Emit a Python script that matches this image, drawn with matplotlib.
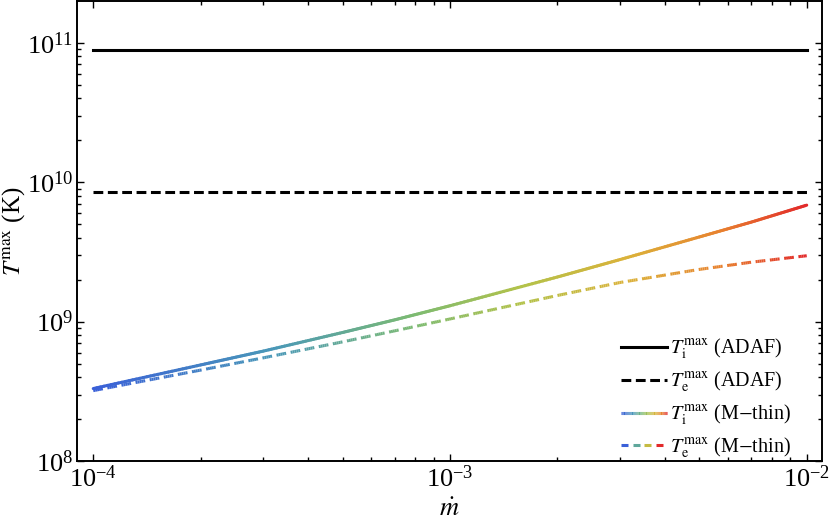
import numpy as np
import matplotlib
matplotlib.use("Agg")
import matplotlib.pyplot as plt
from matplotlib.collections import LineCollection
from matplotlib.colors import LinearSegmentedColormap
from matplotlib.legend_handler import HandlerBase
from matplotlib.lines import Line2D

plt.rcParams['font.family'] = ['Liberation Serif', 'DejaVu Serif']
plt.rcParams['mathtext.fontset'] = 'stix'

# data
mdot = [1e-4, 2e-4, 3e-4, 5e-4, 7e-4, 1e-3, 2e-3, 3e-3, 5e-3, 7e-3, 1e-2]
Ti_thin = [3.31e8, 4.89e8, 6.15e8, 8.36e8, 1.03e9, 1.30e9, 2.09e9, 2.79e9, 4.05e9, 5.18e9, 6.85e9]
Te_thin = [3.20e8, 4.49e8, 5.50e8, 7.16e8, 8.59e8, 1.045e9, 1.54e9, 1.91e9, 2.37e9, 2.67e9, 2.97e9]
Ti_adaf = 8.9e10
Te_adaf = 8.5e9
labels = [r'$T_{\rm i}^{\rm max}$ (ADAF)', r'$T_{\rm e}^{\rm max}$ (ADAF)',
          r'$T_{\rm i}^{\rm max}$ (M$-$thin)', r'$T_{\rm e}^{\rm max}$ (M$-$thin)']

cmap = LinearSegmentedColormap.from_list('rb', [
    (0.0, '#3a60d8'), (0.25, '#4a98b8'), (0.45, '#7dbb72'), (0.6, '#b3c24a'),
    (0.75, '#dbb23a'), (0.88, '#e8822f'), (1.0, '#e2292a')])

LW = 2.2
DASH = (0, (3.2, 1.5))


class GradHandler(HandlerBase):
    def __init__(self, dashed):
        super().__init__()
        self.dashed = dashed

    def create_artists(self, legend, orig, xd, yd, w, h, fs, trans):
        y = h / 2 - yd
        if self.dashed:
            n = 4
            seg_w = w / n
            segs = [[(-xd + i * seg_w, y), (-xd + i * seg_w + seg_w * 0.62, y)] for i in range(n)]
            cols = cmap(np.linspace(0, 1, n))
        else:
            n = 40
            xs = np.linspace(-xd, -xd + w, n + 1)
            segs = [[(xs[i], y), (xs[i + 1], y)] for i in range(n)]
            cols = cmap(np.linspace(0, 1, n))
        lc = LineCollection(segs, colors=cols, linewidths=LW, transform=trans)
        return [lc]


fig = plt.figure(figsize=(8.3, 5.23), dpi=100)
ax = fig.add_axes([0.093, 0.1185, 0.897, 0.8795])
ax.set_xscale('log')
ax.set_yscale('log')

ax.plot([mdot[0], mdot[-1]], [Ti_adaf, Ti_adaf], color='black', lw=LW)
ax.plot([mdot[0], mdot[-1]], [Te_adaf, Te_adaf], color='black', lw=LW, ls=DASH)


def draw_thin(y, dashed):
    # short pieces along each straight log-log piece so the colour runs smoothly
    lx, ly = np.log10(mdot), np.log10(y)
    px, py = [lx[0]], [ly[0]]
    for i in range(len(lx) - 1):
        t = np.linspace(0, 1, 31)[1:]
        px.extend(lx[i] + t * (lx[i + 1] - lx[i]))
        py.extend(ly[i] + t * (ly[i + 1] - ly[i]))
    px, py = np.array(px), np.array(py)
    c = (px - lx[0]) / (lx[-1] - lx[0])
    if not dashed:
        pts = np.array([10 ** px, 10 ** py]).T.reshape(-1, 1, 2)
        segs = np.concatenate([pts[:-1], pts[1:]], axis=1)
        ax.add_collection(LineCollection(segs, colors=cmap(c[:-1]), linewidths=LW,
                                         capstyle='round'))
    else:
        # dashes laid out along display length, each coloured by its position
        disp = ax.transData.transform(np.array([10 ** px, 10 ** py]).T)
        d = np.concatenate([[0], np.cumsum(np.hypot(*np.diff(disp, axis=0).T))])
        on, off = DASH[1][0] * LW / 0.72, DASH[1][1] * LW / 0.72
        s = 0.0
        segs, cols = [], []
        while s < d[-1]:
            e = min(s + on, d[-1])
            ss = np.linspace(s, e, 6)
            xs = np.interp(ss, d, px)
            ys = np.interp(ss, d, py)
            for k in range(5):
                segs.append([(10 ** xs[k], 10 ** ys[k]), (10 ** xs[k + 1], 10 ** ys[k + 1])])
                cols.append(cmap((xs[k] - lx[0]) / (lx[-1] - lx[0])))
            s += on + off
        ax.add_collection(LineCollection(segs, colors=cols, linewidths=LW, capstyle='butt'))


ax.set_xlim(10 ** -4.045, 10 ** -1.958)
ax.set_ylim(1e8, 10 ** 11.30)

draw_thin(Ti_thin, False)
draw_thin(Te_thin, True)

ax.set_xticks([1e-4, 1e-3, 1e-2])
ax.set_yticks([1e8, 1e9, 1e10, 1e11])
ax.tick_params(which='both', direction='in', top=True, right=True, width=1.0,
               labelsize=19, pad=3)
ax.tick_params(which='major', length=5)
ax.tick_params(which='minor', length=3)
for sp in ax.spines.values():
    sp.set_linewidth(1.4)

ax.set_xlabel(r'$\dot{m}$', fontsize=19, labelpad=5)
ax.set_ylabel(r'$T^{\rm max}$ (K)', fontsize=18, labelpad=0)

h1 = Line2D([], [], color='black', lw=LW)
h2 = Line2D([], [], color='black', lw=LW, ls=DASH)
h3 = Line2D([], [], color='red', lw=LW)
h4 = Line2D([], [], color='red', lw=LW, ls='--')
ax.legend([h1, h2, h3, h4], labels, loc='lower right', frameon=False,
          fontsize=14.5, handlelength=2.3, handletextpad=0.15, labelspacing=0.42,
          borderaxespad=0, bbox_to_anchor=(0.97, -0.015),
          handler_map={h3: GradHandler(False), h4: GradHandler(True)})

fig.savefig('out.png', dpi=100)
